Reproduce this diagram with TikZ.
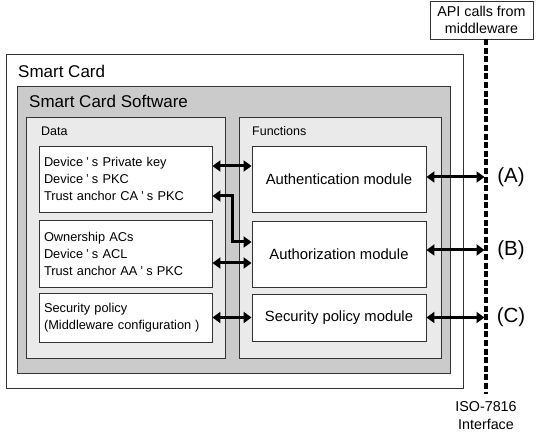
\documentclass[tikz,border=0pt]{standalone}
\usepackage{fontspec}
\setmainfont{Liberation Sans}
\usetikzlibrary{arrows.meta}
\definecolor{swgray}{RGB}{203,203,203}
\definecolor{ltgray}{RGB}{234,234,234}
\begin{document}
\begin{tikzpicture}[x=1pt,y=-1pt,
  frame/.style={draw=black!80,line width=0.9pt},
  itembox/.style={frame,fill=white,minimum width=173pt,inner xsep=5pt,inner ysep=0pt,
    text width=163pt,align=left,font=\fontsize{12.8}{17}\selectfont},
  modbox/.style={frame,fill=white,minimum width=174pt,align=center,
    font=\fontsize{14.8}{17}\selectfont},
  biarrow/.style={line width=3pt,{Triangle[width=11pt,length=8pt]}-{Triangle[width=11pt,length=8pt]}},
  lbl/.style={font=\fontsize{17}{19}\selectfont},
  ifline/.style={line width=3.6pt,dash pattern=on 6pt off 2.6pt}]
\useasboundingbox (0,0) rectangle (540,435);
% containers
\node[frame,fill=white,minimum width=457pt,minimum height=334pt,inner sep=0pt] (card) at (234.5,221) {};
\node[anchor=west,lbl,inner sep=0pt] (cardt) at (18,71) {Smart Card};
\node[frame,fill=swgray,minimum width=433pt,minimum height=287pt,inner sep=0pt] (sw) at (233.5,229.5) {};
\node[anchor=west,lbl,inner sep=0pt] (swt) at (29,101) {Smart Card Software};
\node[frame,fill=ltgray,minimum width=199pt,minimum height=241pt,inner sep=0pt] (data) at (125.5,237.5) {};
\node[anchor=west,inner sep=0pt,font=\fontsize{12.5}{14}\selectfont] (datat) at (41,131) {Data};
\node[frame,fill=ltgray,minimum width=202pt,minimum height=241pt,inner sep=0pt] (func) at (340,237.5) {};
\node[anchor=west,inner sep=0pt,font=\fontsize{12.5}{14}\selectfont] (funct) at (252,131) {Functions};
% data items
\node[itembox,minimum height=66pt] (d1) at (125.5,179) {Device\kern3pt’\kern3pt s Private key\\Device\kern3pt’\kern3pt s PKC\\Trust anchor CA\kern3pt’\kern3pt s PKC};
\node[itembox,minimum height=67pt] (d2) at (125.5,254) {Ownership ACs\\Device\kern3pt’\kern3pt s ACL\\Trust anchor AA\kern3pt’\kern3pt s PKC};
\node[itembox,minimum height=49pt] (d3) at (125.5,317.5) {Security policy\\(Middleware configuration\kern4pt)};
% modules
\node[modbox,minimum height=66pt] (f1) at (339,179) {Authentication module};
\node[modbox,minimum height=66pt] (f2) at (339,254) {Authorization module};
\node[modbox,minimum height=47pt] (f3) at (339,317.5) {Security policy module};
% API box and interface line
\node[frame,fill=white,minimum width=103pt,minimum height=38pt,align=center,inner sep=0pt,
  font=\fontsize{14.3}{17}\selectfont] (api) at (481.5,20) {API calls from\\middleware};
\coordinate (ltop) at (486,39);
\coordinate (lbot) at (486,394);
\draw[ifline] (ltop) -- (lbot);
\node[align=center,inner sep=0pt,font=\fontsize{14.3}{18}\selectfont] (iso) at (486,416) {ISO-7816\\Interface};
% arrows data-functions
\draw[biarrow] ([yshift=13pt]d1.east) -- ([yshift=13pt]f1.west);
\draw[biarrow] ([yshift=-17pt]d1.east) -- ++(20,0) |- ([yshift=12pt]f2.west);
\draw[biarrow] ([yshift=-9pt]d2.east) -- ([yshift=-9pt]f2.west);
\draw[biarrow] (d3.east) -- (f3.west);
% arrows to interface
\coordinate (ea) at ([yshift=2pt]f1.east);
\coordinate (eb) at ([yshift=4pt]f2.east);
\coordinate (ec) at (f3.east);
\draw[biarrow] (ea) -- ([xshift=-1.5pt]ea -| ltop);
\draw[biarrow] (eb) -- ([xshift=-1.5pt]eb -| ltop);
\draw[biarrow] (ec) -- ([xshift=-1.5pt]ec -| ltop);
\node[font=\fontsize{20.5}{22}\selectfont] (la) at (511,177) {(A)};
\node[font=\fontsize{20.5}{22}\selectfont] (lb) at (511,250) {(B)};
\node[font=\fontsize{20.5}{22}\selectfont] (lc) at (511,317) {(C)};
\end{tikzpicture}
\end{document}
